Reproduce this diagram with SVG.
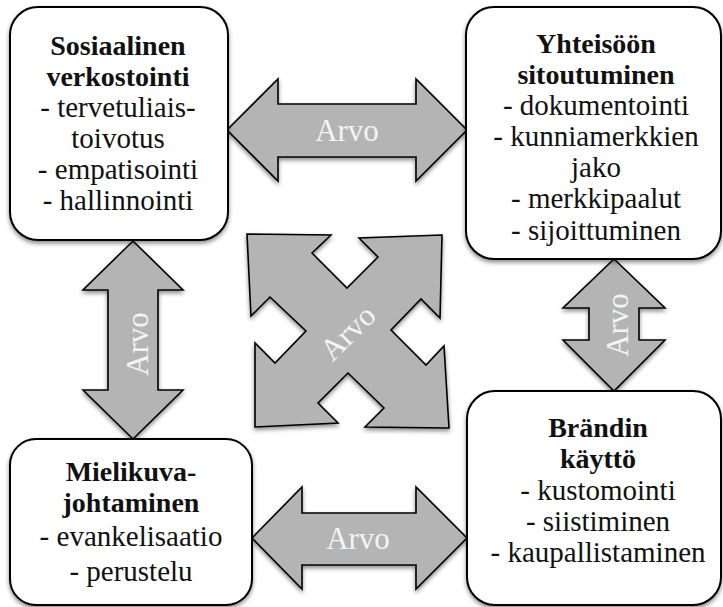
<svg xmlns="http://www.w3.org/2000/svg" width="723" height="607" viewBox="0 0 723 607">
<defs>
<filter id="sh" x="-10%" y="-10%" width="120%" height="125%">
<feDropShadow dx="0" dy="2.5" stdDeviation="2" flood-color="#000" flood-opacity="0.45"/>
</filter>
<style>
.box{fill:#fff;stroke:#000;stroke-width:2}
.arr{fill:#b4b4b4;stroke:#000;stroke-width:1.6;stroke-linejoin:miter}
.t{font-family:'Liberation Serif','DejaVu Serif',serif;font-size:29px;fill:#111;text-anchor:middle}
.b{font-weight:bold;font-size:28px}
.a{font-family:'Liberation Serif','DejaVu Serif',serif;font-size:31px;fill:#f4f4f4;text-anchor:middle}
</style>
</defs>
<rect width="723" height="607" fill="#fff"/>

<g id="connectors">
<g filter="url(#sh)">
<path class="arr" d="M227,130 L278,79 L278,104 L416,104 L416,79 L467,130 L416,181 L416,157 L278,157 L278,181 Z"/>
<path class="arr" d="M252,538 L302,487 L302,513 L416,513 L416,487 L467,538 L416,589 L416,565 L302,565 L302,589 Z"/>
<path class="arr" d="M133,241 L183,290 L158,290 L158,390 L183,390 L133,439 L83,390 L108,390 L108,290 L83,290 Z"/>
<path class="arr" d="M614,259 L665,308 L639,308 L639,340 L665,340 L614,391 L563,340 L589,340 L589,308 L563,308 Z"/>
<path class="arr" d="M247,234 L331,235 L312,253 L347,288 L378,257 L359,238 L442,235 L440,318 L421,299 L391,330 L426,365 L444,346 L449,428 L365,427 L384,408 L348,373 L318,403 L338,423 L255,427 L255,343 L275,363 L306,331 L270,297 L251,316 Z"/>
</g>
<text class="a" x="347" y="141">Arvo</text>
<text class="a" x="358" y="549">Arvo</text>
<text class="a" transform="translate(148,344) rotate(-90)">Arvo</text>
<text class="a" transform="translate(628,325) rotate(-90)">Arvo</text>
<text class="a" transform="translate(348,333) rotate(-45)" y="10">Arvo</text>
</g>

<g id="sosiaalinen">
<rect class="box" x="10" y="7" width="218" height="233" rx="28" filter="url(#sh)"/>
<text class="t b" x="118" y="55">Sosiaalinen</text>
<text class="t b" x="118" y="86">verkostointi</text>
<text class="t" x="118" y="117">- tervetuliais-</text>
<text class="t" x="118" y="148">toivotus</text>
<text class="t" x="118" y="179">- empatisointi</text>
<text class="t" x="118" y="210">- hallinnointi</text>
</g>

<g id="yhteisoon">
<rect class="box" x="466" y="7" width="255" height="252" rx="28" filter="url(#sh)"/>
<text class="t b" x="596" y="53">Yhteisöön</text>
<text class="t b" x="596" y="84">sitoutuminen</text>
<text class="t" x="596" y="115">- dokumentointi</text>
<text class="t" x="596" y="146">- kunniamerkkien</text>
<text class="t" x="596" y="177">jako</text>
<text class="t" x="596" y="208">- merkkipaalut</text>
<text class="t" x="596" y="240">- sijoittuminen</text>
</g>

<g id="mielikuva">
<rect class="box" x="10" y="439" width="242" height="166" rx="26" filter="url(#sh)"/>
<text class="t b" x="131" y="481">Mielikuva-</text>
<text class="t b" x="131" y="512">johtaminen</text>
<text class="t" x="131" y="546">- evankelisaatio</text>
<text class="t" x="131" y="581">- perustelu</text>
</g>

<g id="brandin">
<rect class="box" x="467" y="391" width="254" height="214" rx="28" filter="url(#sh)"/>
<text class="t b" x="598" y="437">Brändin</text>
<text class="t b" x="598" y="468">käyttö</text>
<text class="t" x="598" y="500">- kustomointi</text>
<text class="t" x="598" y="531">- siistiminen</text>
<text class="t" x="598" y="562">- kaupallistaminen</text>
</g>
</svg>
